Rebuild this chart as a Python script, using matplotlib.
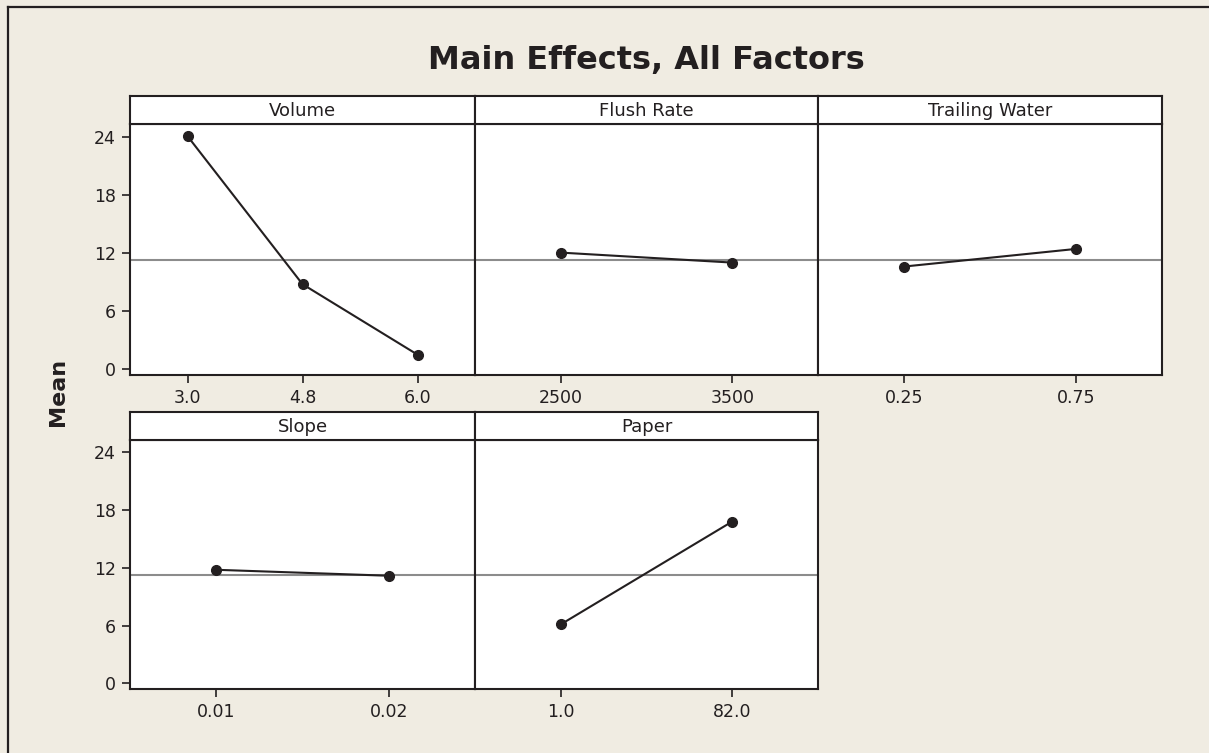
import numpy as np
from matplotlib import pyplot as plt
from matplotlib.lines import Line2D

# main effects data
factors = ["Volume", "Flush Rate", "Trailing Water", "Slope", "Paper"]
volume_levels = ["3.0", "4.8", "6.0"]
volume_means = [24.05, 8.77, 1.5]
flush_levels = ["2500", "3500"]
flush_means = [12.03, 11.0]
trailing_levels = ["0.25", "0.75"]
trailing_means = [10.59, 12.41]
slope_levels = ["0.01", "0.02"]
slope_means = [11.8, 11.18]
paper_levels = ["1.0", "82.0"]
paper_means = [6.12, 16.82]
grand_mean = 11.3
y_ticks = [0, 6, 12, 18, 24]

levels = [volume_levels, flush_levels, trailing_levels, slope_levels, paper_levels]
means = [volume_means, flush_means, trailing_means, slope_means, paper_means]

W, H = 1209, 753
bg = '#f0ece2'
ink = '#231f20'

fig = plt.figure(figsize=(W/100, H/100), dpi=100, facecolor=bg)

def px(x0, y0, x1, y1):
    # pixel box (top-left origin) -> figure fraction rect
    return [x0/W, 1 - y1/H, (x1-x0)/W, (y1-y0)/H]

col_edges = [130, 475, 818, 1162]
rows = [(96, 124, 375), (412, 440, 689)]  # strip top, strip bottom / plot top, plot bottom

for i, name in enumerate(factors):
    r, c = divmod(i, 3)
    st, sb, pb = rows[r]
    x0, x1 = col_edges[c], col_edges[c+1]

    ax = fig.add_axes(px(x0, sb, x1, pb))
    ax.set_facecolor('white')
    n = len(levels[i])
    xs = np.arange(n)
    ax.axhline(grand_mean, color='#8c8c8c', lw=1.5, zorder=1)
    ax.plot(xs, means[i], color=ink, lw=1.5, marker='o', ms=7, zorder=3)
    ax.set_xlim(-0.5, n - 0.5)
    ax.set_ylim(-0.6, 25.3)
    ax.set_xticks(xs)
    ax.set_xticklabels(levels[i])
    ax.set_yticks(y_ticks)
    ax.tick_params(direction='out', length=6, width=1.2, color=ink, labelcolor=ink,
                   labelsize=12.5, pad=4)
    if c != 0:
        ax.tick_params(axis='y', left=False, labelleft=False)
    for s in ax.spines.values():
        s.set_color(ink)
        s.set_linewidth(1.5)

    sx = fig.add_axes(px(x0, st, x1, sb))
    sx.set_facecolor('white')
    sx.set_xticks([])
    sx.set_yticks([])
    for s in sx.spines.values():
        s.set_color(ink)
        s.set_linewidth(1.5)
    sx.text(0.5, 0.45, name, ha='center', va='center', fontsize=13, color=ink,
            transform=sx.transAxes)

fig.text(646/W, 1 - 60/H, "Main Effects, All Factors", ha='center', va='center',
         fontsize=23, fontweight='bold', color=ink)
fig.text(58/W, 1 - 392/H, "Mean", ha='center', va='center', rotation=90,
         fontsize=16, fontweight='bold', color=ink)

# outer frame (only left and top edges visible)
fig.add_artist(Line2D([7.5/W, 7.5/W], [0, 1 - 6.5/H], color=ink, lw=1.6))
fig.add_artist(Line2D([7.5/W, 1], [1 - 6.5/H, 1 - 6.5/H], color=ink, lw=1.6))

fig.savefig('out.png', dpi=100, facecolor=bg)
